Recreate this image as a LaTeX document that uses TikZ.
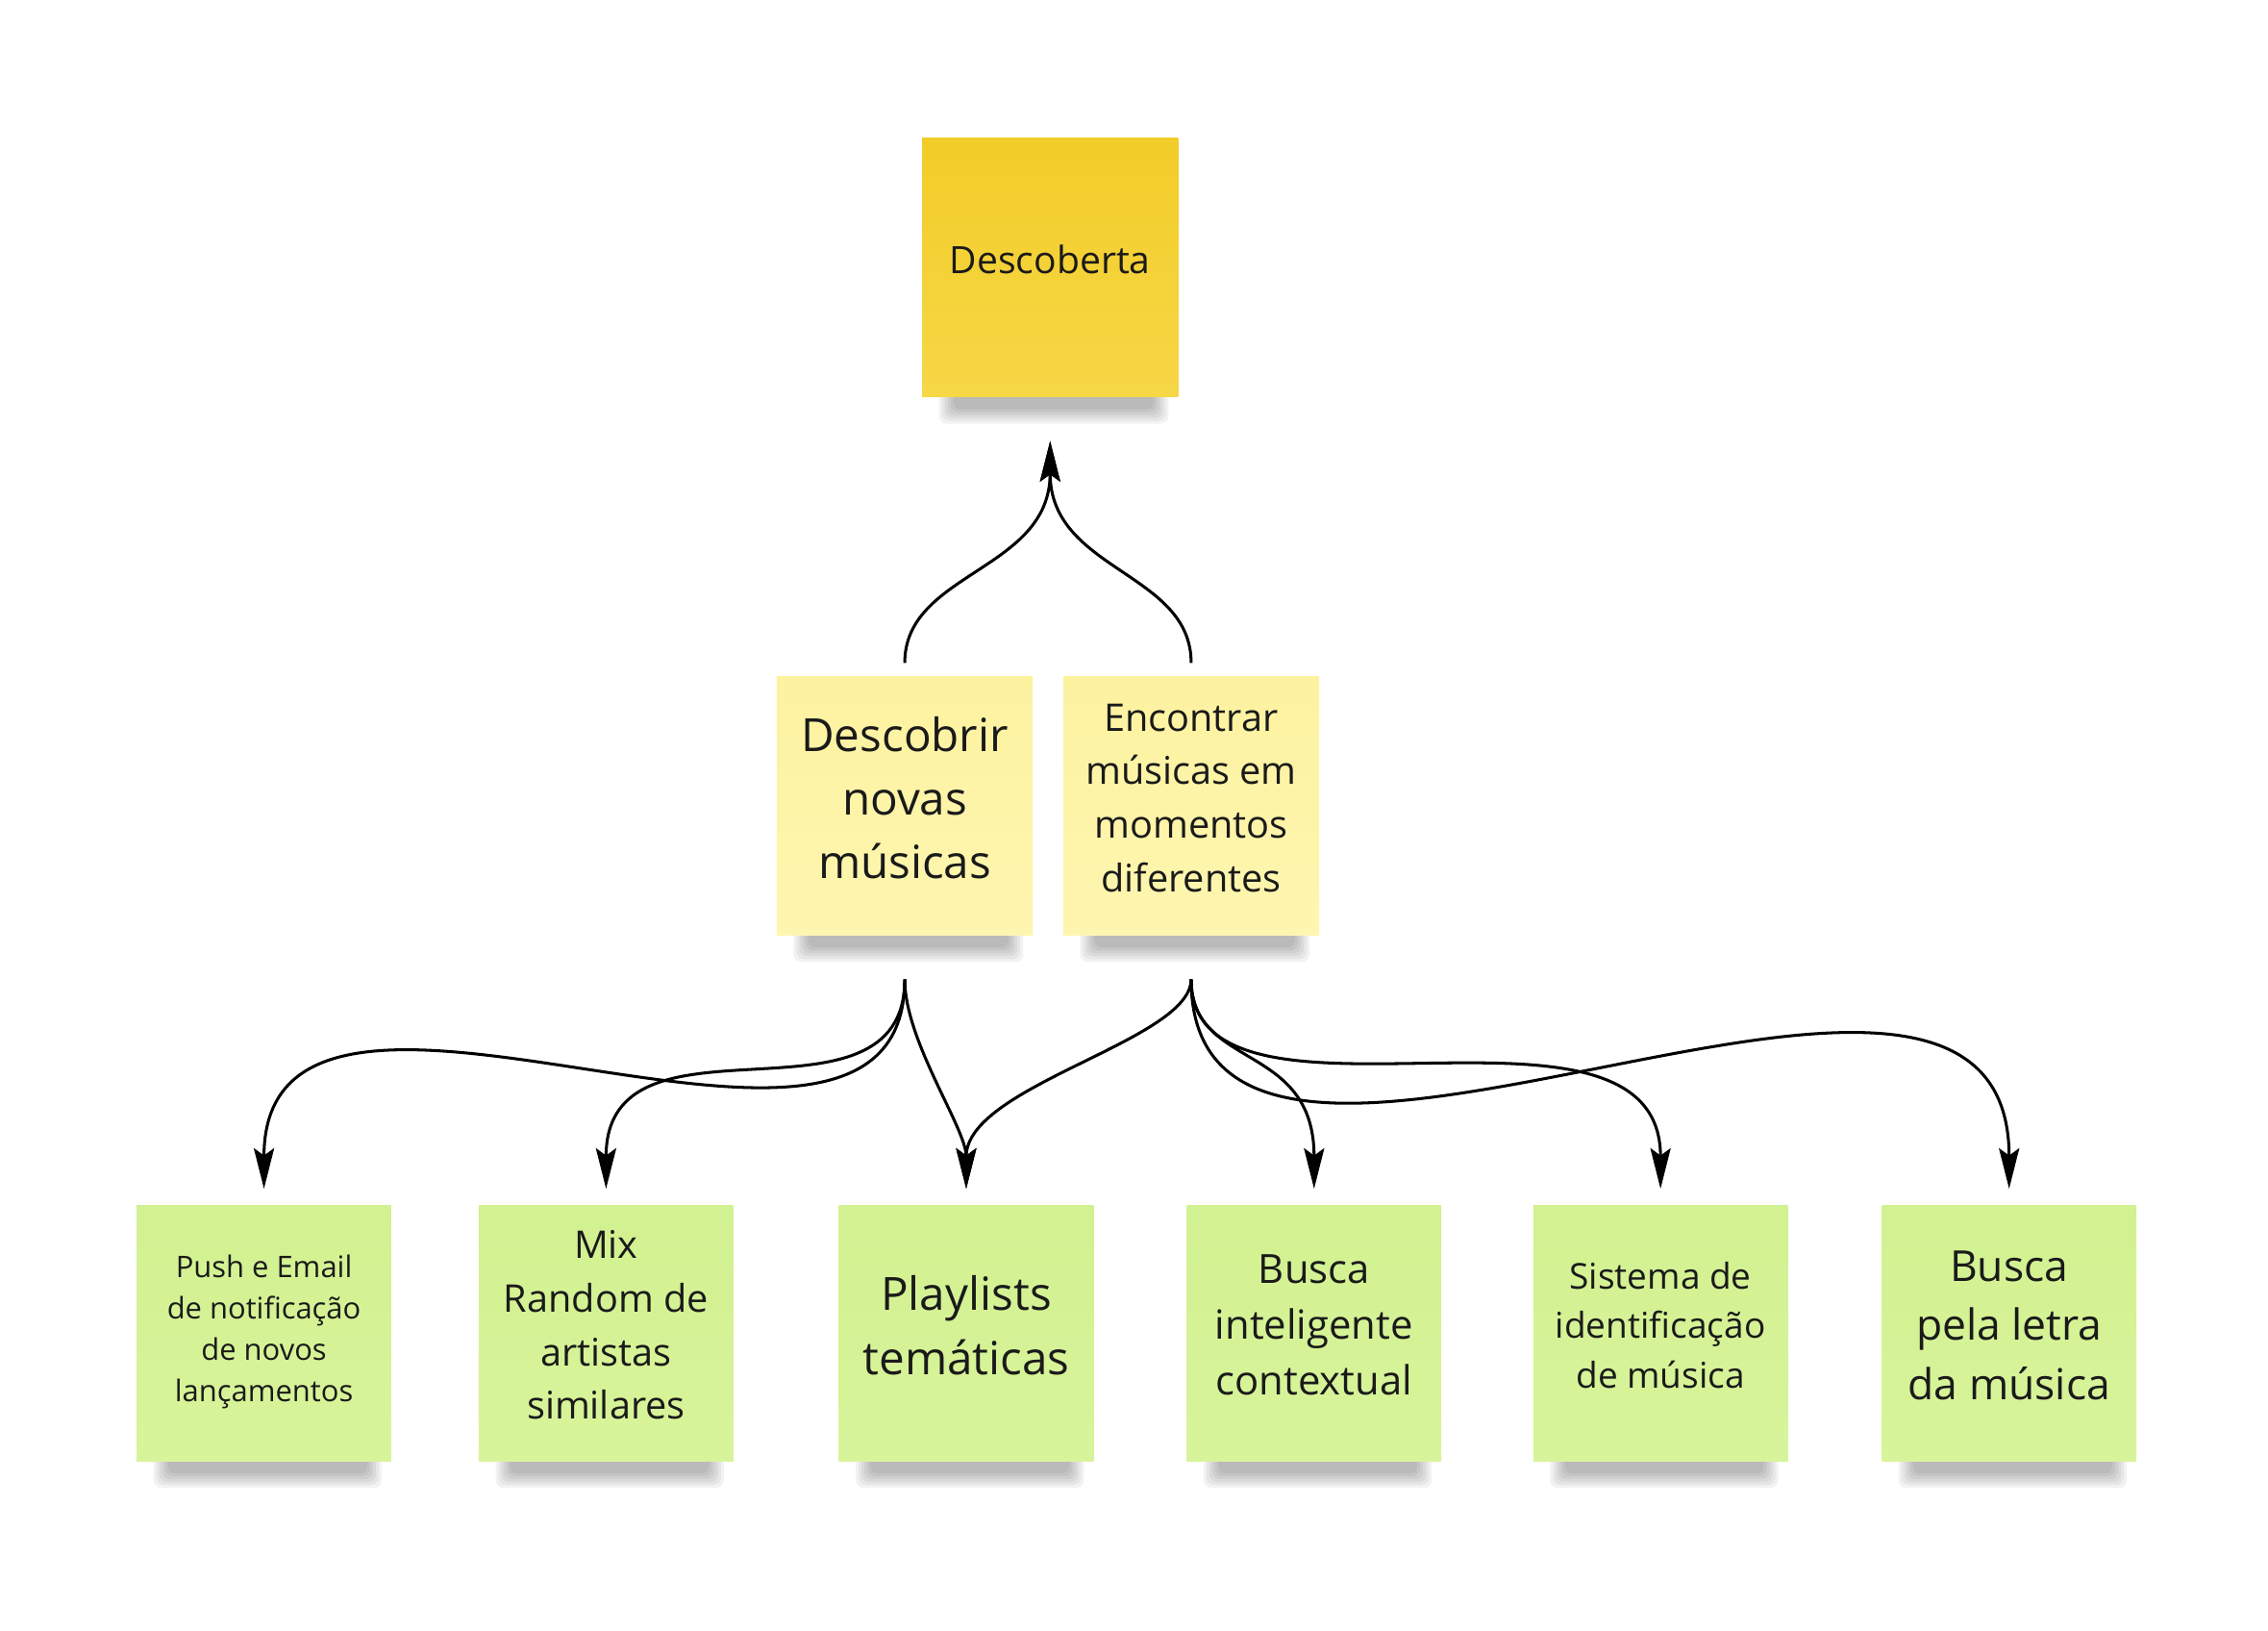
\documentclass[tikz,border=0pt]{standalone}
\usepackage{fontspec}
\setmainfont{Open Sans}
\usepackage{tikz}
\usetikzlibrary{arrows.meta}
\usetikzlibrary{positioning}
\usetikzlibrary{backgrounds}
\definecolor{mgold}{HTML}{F2CC28}
\definecolor{mgoldlow}{HTML}{F6D746}
\definecolor{mcream}{HTML}{FDF2A0}
\definecolor{mcreamlow}{HTML}{FEF6B0}
\definecolor{mlime}{HTML}{D2F190}
\definecolor{mlimelow}{HTML}{D8F49B}
\definecolor{mink}{HTML}{1A1A1A}
\tikzset{note/.style = {minimum width = 3.54cm, minimum height = 3.58cm, inner sep = 0}}
\tikzset{words/.style = {yshift = 0.11cm, align = center, text = mink}}
\tikzset{goldnote/.style = {note, top color = mgold, bottom color = mgoldlow}}
\tikzset{creamnote/.style = {note, top color = mcream, bottom color = mcreamlow}}
\tikzset{limenote/.style = {note, minimum width = 3.52cm, minimum height = 3.54cm, top color = mlime, bottom color = mlimelow}}
\tikzset{link/.style = {line width = 1.15pt, -{Stealth[length = 0.56cm, width = 0.28cm, inset = 0.1cm]}}}
\tikzset{uplink/.style = {link, shorten <= 0.18cm, shorten >= 0.6cm}}
\tikzset{downlink/.style = {link, shorten <= 0.6cm, shorten >= 0.22cm}}
\newcommand{\fsize}[2]{\fontsize{#1}{#2}\selectfont}
\newcommand{\noteshadow}[1]{%
  \foreach \k in {1,...,6} {
    \fill [black, opacity = 0.05, rounded corners = 3pt]
      ([xshift = {0.2cm + \k*0.04cm}, yshift = 0.1cm]#1.south west)
      rectangle ([xshift = {-0.1cm - \k*0.04cm}, yshift = {-0.4cm + \k*0.04cm}]#1.south east);
  }%
}

\begin{document}
\begin{tikzpicture}
    \useasboundingbox (0, 0) rectangle (31.36, -22.54);

    % goal
    \node [goldnote, label = {[words, font = \fsize{14.8}{20}]center:Descoberta}] (top) at (14.52, -3.70) {};

    % needs
    \node [creamnote, label = {[words, font = \fsize{18}{25}]center:{Descobrir\\novas\\músicas}}] (desc) at (12.51, -11.14) {};
    \node [creamnote, label = {[words, font = \fsize{15}{21.05}]center:{Encontrar\\músicas em\\momentos\\diferentes}}] (enc) at (16.47, -11.14) {};

    % features
    \node [limenote, label = {[words, yshift = -0.09cm, font = \fsize{11.7}{16.2}]center:{Push e Email\\de notificação\\de novos\\lançamentos}}] (push) at (3.65, -18.43) {};
    \node [limenote, label = {[words, font = \fsize{15}{21.05}]center:{Mix\\Random de\\artistas\\similares}}] (mix) at (8.38, -18.43) {};
    \node [limenote, label = {[words, font = \fsize{18}{25}]center:{Playlists\\temáticas}}] (play) at (13.36, -18.43) {};
    \node [limenote, label = {[words, font = \fsize{15.8}{21.9}]center:{Busca\\inteligente\\contextual}}] (busca) at (18.17, -18.43) {};
    \node [limenote, label = {[words, font = \fsize{14}{19.35}]center:{Sistema de\\identificação\\de música}}] (sist) at (22.96, -18.43) {};
    \node [limenote, label = {[words, font = \fsize{16.8}{23.3}]center:{Busca\\pela letra\\da música}}] (letra) at (27.78, -18.43) {};

    \begin{scope}[on background layer]
      \foreach \n in {top, desc, enc, push, mix, play, busca, sist, letra} {
        \noteshadow{\n}
      }
    \end{scope}

    \draw [uplink] (desc.north) .. controls +(0, 1.44) and +(0, -2.4) .. (top.south);
    \draw [uplink] (enc.north) .. controls +(0, 1.44) and +(0, -2.4) .. (top.south);

    \draw [downlink] (desc.south) .. controls +(0, -4.42) and +(0, 4.45) .. (push.north);
    \draw [downlink] (desc.south) .. controls +(0, -2.84) and +(0, 2.86) .. (mix.north);
    \draw [downlink] (desc.south) .. controls +(0, -1.46) and +(0, 1.06) .. (play.north);
    \draw [downlink] (enc.south) .. controls +(0, -1.45) and +(0, 1.65) .. (play.north);
    \draw [downlink] (enc.south) .. controls +(0, -1.86) and +(0, 2.26) .. (busca.north);
    \draw [downlink] (enc.south) .. controls +(0, -3.06) and +(0, 3.30) .. (sist.north);
    \draw [downlink] (enc.south) .. controls +(0, -5.28) and +(0, 5.35) .. (letra.north);
  \end{tikzpicture}
\end{document}
